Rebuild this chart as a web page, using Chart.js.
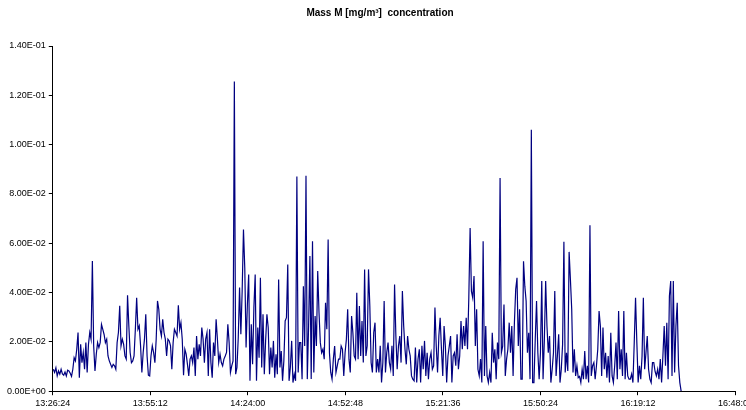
<!DOCTYPE html>
<html>
<head>
<meta charset="utf-8">
<script src="https://cdn.jsdelivr.net/npm/chart.js@4/dist/chart.umd.min.js"></script>
<style>
  html, body { margin: 0; padding: 0; overflow: hidden; background: #fff; }
  #wrap { width: 756px; height: 410px; }
</style>
</head>
<body>
<div id="wrap"><canvas id="grafico"></canvas></div>
<script>
// axis times (hh:mm:ss)
const axisStart = '13:26:24';
const axisEnd = '16:48:00';
const tickStep = '00:28:48';
const firstSample = '13:26:33';
const lastSample = '16:31:57';

const yTicks = [0, 0.02, 0.04, 0.06, 0.08, 0.10, 0.12, 0.14];

// Mass M readings [mg/m³], in time order
const massPart1 = [0.0089,0.0076,0.0095,0.0062,0.0082,0.0069,0.0089,0.0070,0.0065,0.0078,0.0062,0.0085,0.0082,0.0073,0.0060,0.0089,0.0136,0.0123,0.0170,0.0238,0.0055,0.0190,0.0116,0.0157,0.0089,0.0197,0.0076,0.0190,0.0238,0.0211,0.0528,0.0184,0.0082,0.0150,0.0197,0.0177,0.0197,0.0271,0.0251,0.0230,0.0197,
  0.0211,0.0143,0.0123,0.0109,0.0096,0.0109,0.0103,0.0089,0.0197,0.0238,0.0346,0.0184,0.0211,0.0190,0.0143,0.0130,0.0389,0.0265,0.0157,0.0116,0.0123,0.0143,0.0251,0.0379,0.0251,0.0265,0.0184,0.0076,0.0157,0.0211,0.0312,0.0143,0.0065,0.0062,0.0143,0.0184,0.0157,0.0116,0.0211,0.0366,0.0332,0.0251,0.0224,0.0292,0.0238,0.0211,0.0143,0.0211,0.0204,0.0184,0.0089];
const massPart2 = [0.0197,0.0251,0.0238,0.0224,0.0348,0.0251,0.0278,0.0211,0.0065,0.0170,0.0150,0.0109,0.0062,0.0130,0.0143,0.0116,0.0177,0.0062,0.0224,0.0130,0.0190,0.0143,0.0258,0.0211,0.0116,0.0211,0.0238,0.0062,0.0251,0.0116,0.0055,0.0197,0.0143,0.0292,0.0211,0.0116,0.0150,0.0116,0.0103,0.0130,0.0143,0.0157,0.0271,0.0197,0.0076,0.0103,0.0123,
  0.1256,0.0069,0.0096,0.0217,0.0420,0.0231,0.0406,0.0656,0.0500,0.0177,0.0352,0.0473,0.0042,0.0271,0.0109,0.0339,0.0473,0.0042,0.0258,0.0136,0.0460,0.0096,0.0312,0.0069,0.0204,0.0312,0.0258,0.0069,0.0177,0.0096,0.0204,0.0055,0.0150,0.0069,0.0453,0.0096,0.0163,0.0042,0.0123,0.0285,0.0298,0.0514,0.0042,0.0096,0.0204,0.0035,0.0069,0.0042,0.0871];
const massPart3 = [0.0076,0.0197,0.0197,0.0049,0.0426,0.0183,0.0874,0.0049,0.0264,0.0548,0.0049,0.0608,0.0076,0.0305,0.0183,0.0487,0.0318,0.0197,0.0156,0.0170,0.0130,0.0359,0.0251,0.0615,0.0156,0.0076,0.0049,0.0130,0.0183,0.0076,0.0103,0.0130,0.0130,0.0183,0.0170,0.0062,0.0156,0.0210,0.0332,0.0130,0.0076,0.0305,0.0237,0.0143,0.0130,0.0399,0.0130,0.0345,0.0143,
  0.0285,0.0116,0.0494,0.0143,0.0184,0.0494,0.0346,0.0116,0.0076,0.0238,0.0278,0.0076,0.0130,0.0076,0.0184,0.0035,0.0116,0.0366,0.0076,0.0157,0.0197,0.0116,0.0089,0.0184,0.0062,0.0433,0.0224,0.0089,0.0184,0.0224,0.0116,0.0406,0.0265,0.0170,0.0109,0.0224,0.0170,0.0143,0.0062,0.0049,0.0042,0.0177,0.0035,0.0130,0.0170,0.0035,0.0184,0.0089];
const massPart4 = [0.0204,0.0062,0.0156,0.0049,0.0130,0.0156,0.0089,0.0103,0.0339,0.0183,0.0076,0.0224,0.0298,0.0170,0.0062,0.0264,0.0183,0.0035,0.0143,0.0183,0.0224,0.0035,0.0143,0.0156,0.0103,0.0231,0.0089,0.0143,0.0285,0.0170,0.0264,0.0183,0.0298,0.0170,0.0379,0.0662,0.0406,0.0379,0.0467,0.0183,0.0332,0.0089,0.0062,0.0130,0.0035,0.0608,
  0.0062,0.0264,0.0062,0.0035,0.0076,0.0035,0.0237,0.0116,0.0170,0.0049,0.0197,0.0130,0.0865,0.0156,0.0183,0.0352,0.0062,0.0130,0.0170,0.0278,0.0156,0.0264,0.0062,0.0278,0.0413,0.0460,0.0183,0.0332,0.0049,0.0049,0.0527,0.0426,0.0366,0.0156,0.0237,0.0049,0.1060,0.0035,0.0035,0.0210,0.0366,0.0156,0.0049,0.0156,0.0447,0.0049,0.0210,0.0447,0.0264,0.0156,0.0224];
const massPart5 = [0.0035,0.0089,0.0156,0.0406,0.0062,0.0143,0.0231,0.0035,0.0089,0.0190,0.0606,0.0076,0.0156,0.0082,0.0565,0.0453,0.0332,0.0076,0.0170,0.0062,0.0103,0.0055,0.0060,0.0035,0.0089,0.0049,0.0163,0.0049,0.0103,0.0035,0.0673,0.0062,0.0103,0.0116,0.0049,0.0103,0.0170,0.0325,0.0264,0.0062,0.0258,0.0089,0.0156,0.0055,0.0143,0.0035,0.0237,0.0062,0.0035,
  0.0103,0.0197,0.0049,0.0325,0.0089,0.0170,0.0062,0.0325,0.0049,0.0156,0.0062,0.0049,0.0049,0.0070,0.0035,0.0197,0.0379,0.0197,0.0035,0.0103,0.0049,0.0143,0.0379,0.0089,0.0156,0.0224,0.0089,0.0049,0.0035,0.0116,0.0116,0.0080,0.0062,0.0089,0.0049,0.0130,0.0035,0.0143,0.0264,0.0103,0.0278,0.0049,0.0386,0.0447,0.0062,0.0447,0.0076,0.0264,0.0359,0.0103,0.0035,0];

const massM = [].concat(massPart1, massPart2, massPart3, massPart4, massPart5);

function toSec(s) {
  const p = s.split(':').map(Number);
  return p[0] * 3600 + p[1] * 60 + p[2];
}
function toClock(sec) {
  sec = Math.round(sec);
  const h = Math.floor(sec / 3600), m = Math.floor(sec % 3600 / 60), s = sec % 60;
  return [h, m, s].map(v => String(v).padStart(2, '0')).join(':');
}
function sci(v) {
  const parts = v.toExponential(2).toUpperCase().split('E');
  const e = parseInt(parts[1], 10);
  return parts[0] + 'E' + (e < 0 ? '-' : '+') + String(Math.abs(e)).padStart(2, '0');
}

const t0 = toSec(axisStart);
const tFirst = toSec(firstSample) - t0;
const tLast = toSec(lastSample) - t0;
const dt = (tLast - tFirst) / (massM.length - 1);
const pontos = massM.map((v, i) => ({ x: tFirst + i * dt, y: v }));

const fonte = { family: '"Liberation Sans", Arial, sans-serif', size: 9 };

new Chart(document.getElementById('grafico'), {
  type: 'line',
  data: {
    datasets: [{
      label: 'Mass M',
      data: pontos,
      borderColor: '#000080',
      borderWidth: 1.2,
      pointRadius: 0,
      tension: 0,
      fill: false,
    }]
  },
  options: {
    responsive: true,
    maintainAspectRatio: false,
    animation: false,
    layout: { padding: { left: 4, right: 0, top: 0, bottom: -2 } },
    plugins: {
      legend: { display: false },
      tooltip: { enabled: false },
      title: {
        display: true,
        text: 'Mass M [mg/m³]  concentration',
        color: '#000',
        font: { family: fonte.family, size: 10, weight: 'bold' },
        padding: { top: 7, bottom: 27 },
      },
    },
    scales: {
      x: {
        type: 'linear',
        min: 0,
        max: toSec(axisEnd) - t0,
        grid: { drawOnChartArea: false, color: '#000', tickLength: 4 },
        border: { color: '#000', width: 1 },
        ticks: {
          stepSize: toSec(tickStep),
          autoSkip: false,
          maxRotation: 0,
          color: '#000',
          font: fonte,
          padding: 3,
          callback: v => toClock(t0 + v),
        },
      },
      y: {
        min: 0,
        max: 0.14,
        afterBuildTicks: s => { s.ticks = yTicks.map(v => ({ value: v })); },
        grid: { drawOnChartArea: false, color: '#000', tickLength: 4 },
        border: { color: '#000', width: 1 },
        ticks: {
          color: '#000',
          font: fonte,
          padding: 3,
          callback: v => sci(v),
        },
      },
    },
  },
});
</script>
</body>
</html>
